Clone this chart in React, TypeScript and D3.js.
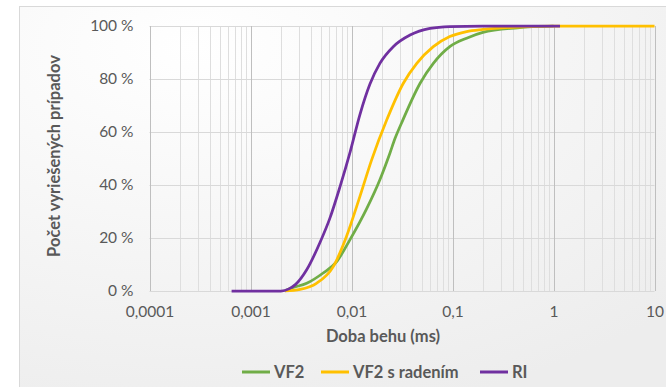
import React, { useEffect, useRef } from 'react';
import * as d3 from 'd3';

// run time (ms) and share of solved cases (%)
const vf2Time = [0.0022, 0.0025, 0.0036, 0.0052, 0.0071, 0.0097, 0.0141, 0.0191, 0.024, 0.027, 0.0314, 0.0478, 0.0646, 0.094, 0.138, 0.2, 0.44, 1];
const vf2Pct = [0, 1, 2.9, 6.7, 11, 19.5, 31, 42, 52, 57.6, 63.5, 78.4, 85.9, 92.2, 95.4, 97.6, 99.3, 100];

const vf2sTime = [0.0022, 0.0031, 0.0045, 0.0066, 0.0089, 0.0121, 0.0158, 0.0223, 0.0326, 0.0443, 0.0646, 0.094, 0.138, 0.2, 0.44, 1, 10];
const vf2sPct = [0, 0.6, 2.9, 9.2, 20.5, 35.6, 49.4, 64.5, 78.4, 85.9, 92.2, 96, 97.9, 98.7, 99.6, 100, 100];

const riTime = [0.00065, 0.002, 0.0024, 0.0028, 0.0036, 0.0049, 0.0061, 0.0077, 0.0097, 0.0121, 0.0152, 0.0191, 0.0259, 0.038, 0.06, 0.094, 0.2, 1.16];
const riPct = [0, 0, 0.8, 2.5, 8, 18.5, 27.4, 39.4, 52.5, 66.5, 78, 85.9, 92.2, 96.6, 99.1, 99.8, 100, 100];

const xTicks = [0.0001, 0.001, 0.01, 0.1, 1, 10];
const yTicks = [0, 20, 40, 60, 80, 100];

const seriesNames = ['VF2', 'VF2 s radením', 'RI'];
const seriesColors = ['#70AD47', '#FFC000', '#7030A0'];

const FONT = 'Lato, "Open Sans", sans-serif';

export default function App() {
  const ref = useRef<SVGSVGElement>(null);

  useEffect(() => {
    const svg = d3.select(ref.current);
    svg.selectAll('*').remove();

    const x = d3.scaleLog().domain([0.0001, 10]).range([149.5, 654.5]);
    const y = d3.scaleLinear().domain([0, 100]).range([291, 26]);

    const defs = svg.append('defs');
    const grad = defs
      .append('radialGradient')
      .attr('id', 'bg')
      .attr('cx', '25%')
      .attr('cy', '10%')
      .attr('r', '95%');
    grad.append('stop').attr('offset', '0%').attr('stop-color', '#ffffff');
    grad.append('stop').attr('offset', '100%').attr('stop-color', '#ededed');

    svg
      .append('rect')
      .attr('x', 19.5)
      .attr('y', 6.5)
      .attr('width', 700)
      .attr('height', 400)
      .attr('fill', 'url(#bg)')
      .attr('stroke', '#d9d9d9');

    // vertical grid (log)
    const minor: number[] = [];
    for (let d = 0.0001; d < 9; d *= 10) {
      for (let k = 2; k <= 9; k++) minor.push(k * d);
    }
    svg
      .append('g')
      .selectAll('line')
      .data(minor)
      .enter()
      .append('line')
      .attr('x1', (d) => Math.round(x(d)) + 0.5)
      .attr('x2', (d) => Math.round(x(d)) + 0.5)
      .attr('y1', y(0))
      .attr('y2', y(100))
      .attr('stroke', '#dedede');

    // horizontal grid
    svg
      .append('g')
      .selectAll('line')
      .data(yTicks)
      .enter()
      .append('line')
      .attr('x1', x(0.0001))
      .attr('x2', x(10))
      .attr('y1', (d) => Math.round(y(d)) + 0.5)
      .attr('y2', (d) => Math.round(y(d)) + 0.5)
      .attr('stroke', '#d9d9d9');

    svg
      .append('g')
      .selectAll('line')
      .data(xTicks)
      .enter()
      .append('line')
      .attr('x1', (d) => Math.round(x(d)) + 0.5)
      .attr('x2', (d) => Math.round(x(d)) + 0.5)
      .attr('y1', y(0))
      .attr('y2', y(100))
      .attr('stroke', '#bfbfbf');

    // axes labels
    const sk = d3.formatLocale({ decimal: ',', thousands: ' ', grouping: [3], currency: ['', ' €'] });
    const fx = (d: number) => sk.format('~g')(d);

    const xAxis = svg
      .append('g')
      .attr('transform', `translate(0,${y(0) + 12})`)
      .call(d3.axisBottom(x).tickValues(xTicks).tickFormat((d) => fx(d as number)).tickSize(0));
    xAxis.select('.domain').remove();
    xAxis
      .selectAll('text')
      .attr('font-family', FONT)
      .attr('font-size', 15.5)
      .attr('fill', '#595959');

    const yAxis = svg
      .append('g')
      .attr('transform', `translate(${x(0.0001) - 13},0)`)
      .call(d3.axisLeft(y).tickValues(yTicks).tickFormat((d) => `${d} %`).tickSize(0));
    yAxis.select('.domain').remove();
    yAxis
      .selectAll('text')
      .attr('font-family', FONT)
      .attr('font-size', 15.5)
      .attr('fill', '#595959');

    svg
      .append('text')
      .attr('x', 383)
      .attr('y', 342)
      .attr('text-anchor', 'middle')
      .attr('font-family', FONT)
      .attr('font-size', 16.5)
      .attr('font-weight', 'bold')
      .attr('fill', '#595959')
      .text('Doba behu (ms)');

    svg
      .append('text')
      .attr('transform', 'translate(60,156) rotate(-90)')
      .attr('text-anchor', 'middle')
      .attr('font-family', FONT)
      .attr('font-size', 16.5)
      .attr('font-weight', 'bold')
      .attr('fill', '#595959')
      .text('Počet vyriešených prípadov');

    // series
    const series = [
      vf2Time.map((t, i) => [t, vf2Pct[i]]),
      vf2sTime.map((t, i) => [t, vf2sPct[i]]),
      riTime.map((t, i) => [t, riPct[i]]),
    ];
    const line = d3
      .line<number[]>()
      .x((d) => x(d[0]))
      .y((d) => y(d[1]))
      .curve(d3.curveMonotoneX);

    svg
      .append('g')
      .selectAll('path')
      .data(series)
      .enter()
      .append('path')
      .attr('d', (d) => line(d))
      .attr('fill', 'none')
      .attr('stroke', (_, i) => seriesColors[i])
      .attr('stroke-width', 2.75);

    // legend
    const legendX = [242, 321, 480];
    const lg = svg
      .append('g')
      .selectAll('g')
      .data(seriesNames)
      .enter()
      .append('g')
      .attr('transform', (_, i) => `translate(${legendX[i]},372)`);
    lg.append('line')
      .attr('x1', 0)
      .attr('x2', 28)
      .attr('stroke', (_, i) => seriesColors[i])
      .attr('stroke-width', 3);
    lg.append('text')
      .attr('x', 32)
      .attr('dy', '0.35em')
      .attr('font-family', FONT)
      .attr('font-size', 16.5)
      .attr('font-weight', 'bold')
      .attr('fill', '#595959')
      .text((d) => d);
  }, []);

  return (
    <svg
      ref={ref}
      width={666}
      height={387}
      style={{ position: 'absolute', left: 0, top: 0, display: 'block' }}
    ></svg>
  );
}
